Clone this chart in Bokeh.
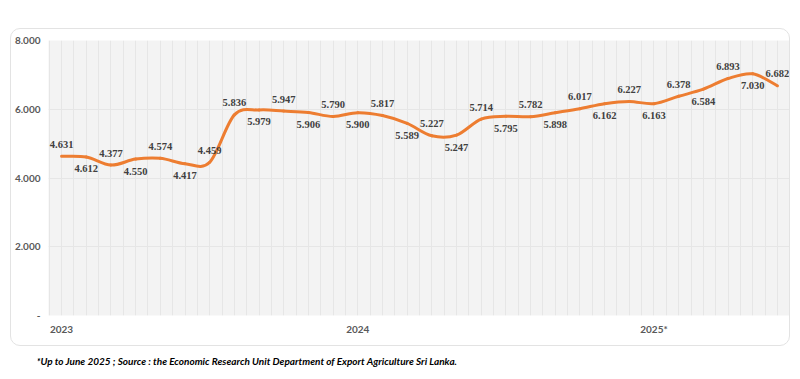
from bokeh.plotting import figure
from bokeh.layouts import column
from bokeh.models import Range1d, FixedTicker, Label, ColumnDataSource, LabelSet
from bokeh.embed import file_html
from bokeh.resources import INLINE

# ---- data ----
values = [4631, 4612, 4377, 4550, 4574, 4417, 4459, 5836, 5979, 5947, 5906, 5790,
          5900, 5817, 5589, 5227, 5247, 5714, 5795, 5782, 5898, 6017, 6162, 6227,
          6163, 6378, 6584, 6893, 7030, 6682]
year_ticks = [0, 12, 24]
year_labels = ["2023", "2024", "2025*"]
y_ticks = [0, 2000, 4000, 6000, 8000]
y_tick_labels = ["-", "2.000", "4.000", "6.000", "8.000"]
footnote = "*Up to June 2025 ; Source : the Economic Research Unit Department of Export Agriculture Sri Lanka."

n = len(values)
xs = list(range(n))

# card figure (screen box 10..792 x 28..348, 1px CSS border)
p = figure(width=780, height=318, output_backend="svg", toolbar_location=None,
           x_range=Range1d(-0.53, n - 1 + 0.49), y_range=Range1d(0, 8000),
           min_border_left=36, min_border_right=2, min_border_top=11, min_border_bottom=32,
           margin=(28, 0, 0, 10),
           styles={"border": "1px solid #e3e3e3", "border-radius": "10px"})
p.background_fill_color = "#f3f3f3"
p.border_fill_color = None
p.outline_line_color = None

# grids
p.xgrid.ticker = FixedTicker(ticks=[i * 0.5 for i in range(-1, 2 * n)])
p.xgrid.grid_line_color = "#e6e6e6"
p.xgrid.grid_line_width = 1
p.ygrid.ticker = FixedTicker(ticks=y_ticks)
p.ygrid.grid_line_color = "#e6e6e6"

# axes
p.yaxis.ticker = FixedTicker(ticks=y_ticks)
p.yaxis.major_label_overrides = {t: l for t, l in zip(y_ticks, y_tick_labels)}
p.xaxis.ticker = FixedTicker(ticks=year_ticks)
p.xaxis.major_label_overrides = {t: l for t, l in zip(year_ticks, year_labels)}
for ax in (p.xaxis, p.yaxis):
    ax.axis_line_color = None
    ax.major_tick_line_color = None
    ax.minor_tick_line_color = None
    ax.major_tick_out = 0
    ax.major_tick_in = 0
    ax.minor_tick_out = 0
    ax.major_label_text_font = "Lato"
    ax.major_label_text_font_style = "bold"
    ax.major_label_text_font_size = "10px"
    ax.major_label_text_color = "#595959"
p.yaxis.major_label_standoff = 8
p.xaxis.major_label_standoff = 7

# smoothed line (cubic bezier segments through the data points)
x0s, y0s, x1s, y1s, cx0, cy0, cx1, cy1 = [], [], [], [], [], [], [], []
for i in range(n - 1):
    a = max(i - 1, 0)
    d = min(i + 2, n - 1)
    x0s.append(xs[i]); y0s.append(values[i])
    x1s.append(xs[i + 1]); y1s.append(values[i + 1])
    cx0.append(xs[i] + (xs[i + 1] - xs[a]) / 6.0)
    cy0.append(values[i] + (values[i + 1] - values[a]) / 6.0)
    cx1.append(xs[i + 1] - (xs[d] - xs[i]) / 6.0)
    cy1.append(values[i + 1] - (values[d] - values[i]) / 6.0)
p.bezier(x0=x0s, y0=y0s, x1=x1s, y1=y1s, cx0=cx0, cy0=cy0, cx1=cx1, cy1=cy1,
         line_color="#ED7D31", line_width=3, line_cap="round")

# data labels
labels = [f"{v:,}".replace(",", ".") for v in values]
above = [(i % 2 == 0 and i <= 6) or (i % 2 == 1 and i >= 7) for i in range(n)]
offs = [12 if a else -12 for a in above]
src = ColumnDataSource(dict(x=xs, y=values, t=labels, off=offs))
p.add_layout(LabelSet(x="x", y="y", text="t", source=src, y_offset="off",
                      text_align="center", text_baseline="middle",
                      text_font="Lato", text_font_style="bold", text_font_size="10.5px",
                      text_color="#404040"))

# footnote strip (frame aligned with the card's frame: 36..798 px)
f = figure(width=800, height=31, output_backend="svg", toolbar_location=None,
           x_range=Range1d(36, 798), y_range=Range1d(0, 31),
           x_axis_type=None, y_axis_type=None,
           min_border_left=36, min_border_right=2, min_border_top=0, min_border_bottom=0)
f.grid.visible = False
f.outline_line_color = None
f.background_fill_color = None
f.border_fill_color = None
f.add_layout(Label(x=35, y=17, text=footnote, text_baseline="middle", text_align="left",
                   text_font="Lato", text_font_style="bold italic",
                   text_font_size="10px", text_color="#000000"))

layout = column(p, f, spacing=0)
open("out.html", "w").write(file_html(layout, INLINE))
